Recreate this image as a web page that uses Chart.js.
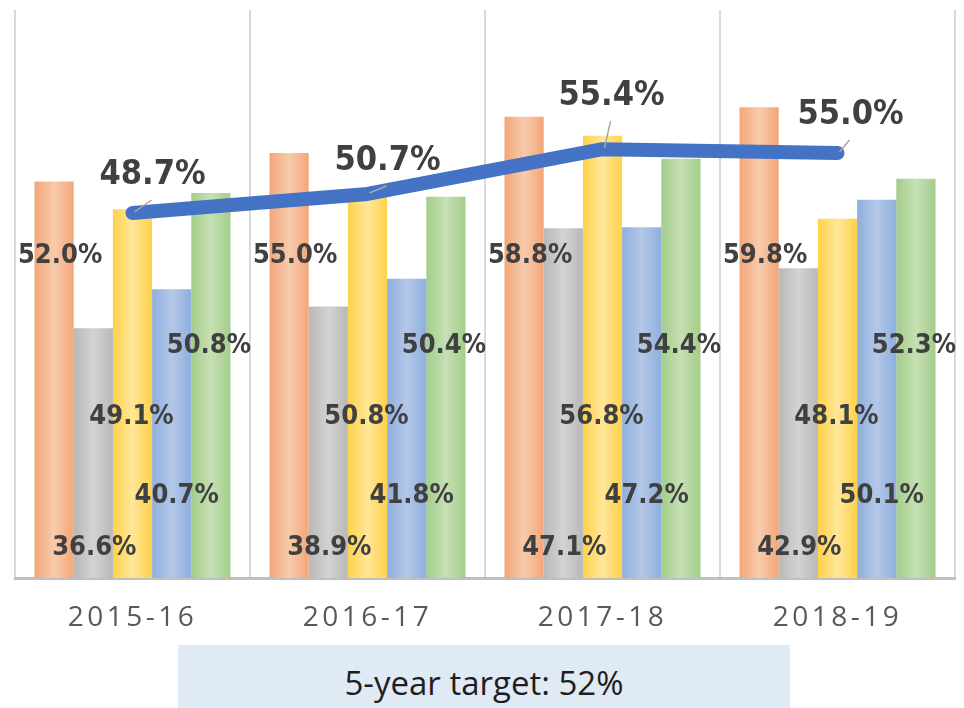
<!DOCTYPE html>
<html>
<head>
<meta charset="utf-8">
<script src="https://cdn.jsdelivr.net/npm/chart.js@4.4.1/dist/chart.umd.min.js"></script>
<style>
  html, body { margin: 0; padding: 0; background: #fff; }
  #wrap { position: relative; width: 964px; height: 708px; }
  #chartBox { position: absolute; left: 0; top: 0; width: 964px; height: 645px; }
  #target {
    position: absolute; left: 178px; top: 645px; width: 612px; height: 63px;
    background: #dfeaf5; color: #1e1e1e; text-align: center;
    font: 33px "Open Sans", sans-serif; line-height: 63px;
  }
  #target span { position: relative; top: 6px; }
</style>
</head>
<body>
<div id="wrap">
  <div id="chartBox"><canvas id="resultsChart"></canvas></div>
  <div id="target"><span>5-year target: 52%</span></div>
</div>
<script>
const years = ["2015-16", "2016-17", "2017-18", "2018-19"];
const orangeValues = [52.0, 55.0, 58.8, 59.8];
const grayValues = [36.6, 38.9, 47.1, 42.9];
const yellowValues = [49.1, 50.8, 56.8, 48.1];
const blueValues = [40.7, 41.8, 47.2, 50.1];
const greenValues = [50.8, 50.4, 54.4, 52.3];
const overallValues = [48.7, 50.7, 55.4, 55.0];

const labelFont = '"DejaVu Sans Condensed", "DejaVu Sans", sans-serif';

// horizontal gradient per bar, set once the bars know where they are
const barGradient = {
  id: "barGradient",
  afterDatasetsUpdate(chart) {
    const ctx = chart.ctx;
    chart.data.datasets.forEach((ds, i) => {
      if (ds.type === "line") return;
      chart.getDatasetMeta(i).data.forEach(bar => {
        const left = bar.x - bar.width / 2;
        const g = ctx.createLinearGradient(left, 0, left + bar.width, 0);
        g.addColorStop(0, ds.edgeColor);
        g.addColorStop(0.5, ds.midColor);
        g.addColorStop(1, ds.edgeColor);
        bar.options = Object.assign({}, bar.options, { backgroundColor: g });
      });
    });
  }
};

// spaced-out category labels
const tickSpacing = {
  id: "tickSpacing",
  beforeDraw(chart) { chart.ctx.letterSpacing = "3.5px"; },
  beforeDatasetsDraw(chart) { chart.ctx.letterSpacing = "0px"; }
};

const valueLabels = {
  id: "valueLabels",
  afterDatasetsDraw(chart, args, opts) {
    const ctx = chart.ctx;
    const yScale = chart.scales.y;
    ctx.save();
    ctx.textAlign = "center";
    ctx.textBaseline = "middle";
    ctx.fillStyle = "#404040";
    chart.data.datasets.forEach((ds, i) => {
      chart.getDatasetMeta(i).data.forEach((el, j) => {
        const txt = ds.data[j].toFixed(1) + "%";
        if (ds.type === "line") {
          const off = opts.lineOffsets[j];
          const lx = el.x + off[0], ly = el.y + off[1];
          ctx.strokeStyle = "#a6a6a6";
          ctx.lineWidth = 1.5;
          ctx.beginPath();
          ctx.moveTo(el.x + 2, el.y - 1);
          ctx.lineTo(lx - 1, ly + 25);
          ctx.stroke();
          ctx.font = "bold 34px " + labelFont;
          ctx.fillText(txt, lx, ly);
        } else {
          ctx.font = "bold 27px " + labelFont;
          ctx.fillText(txt, el.x + ds.labelDx, yScale.getPixelForValue(ds.labelLevel));
        }
      });
    });
    ctx.restore();
  }
};

const barSet = (data, edge, mid, level, dx) => ({
  type: "bar",
  data: data,
  edgeColor: edge,
  midColor: mid,
  backgroundColor: mid,
  borderWidth: 0,
  labelLevel: level,
  labelDx: dx,
  order: 1
});

const ctx = document.getElementById("resultsChart");
new Chart(ctx, {
  data: {
    labels: years,
    datasets: [
      {
        type: "line",
        data: overallValues,
        borderColor: "#4472c4",
        borderWidth: 14,
        borderCapStyle: "round",
        borderJoinStyle: "round",
        pointRadius: 0,
        tension: 0,
        order: 0
      },
      barSet(orangeValues, "#f2a678", "#f8cbad", 44.2, 6),
      barSet(grayValues, "#b8b8b8", "#d3d3d3", 13.5, 1),
      barSet(yellowValues, "#ffd24a", "#ffe699", 27.3, -1),
      barSet(blueValues, "#8eafdf", "#b4c7e7", 19.0, 5),
      barSet(greenValues, "#a3cd8a", "#c6e0b4", 34.7, -2)
    ]
  },
  options: {
    responsive: true,
    maintainAspectRatio: false,
    animation: false,
    layout: { padding: { left: 15, right: 9, top: 10, bottom: 0 } },
    datasets: {
      bar: { categoryPercentage: 0.834, barPercentage: 1 }
    },
    scales: {
      x: {
        offset: true,
        grid: { offset: true, color: "#d9d9d9", lineWidth: 2, drawTicks: false },
        border: { color: "#bfbfbf", width: 3 },
        ticks: {
          color: "#595959",
          font: { family: "Open Sans", size: 28 },
          padding: 23
        },
        afterFit(scale) { scale.height = 67; }
      },
      y: { display: false, min: 10.4, max: 70 }
    },
    plugins: {
      legend: { display: false },
      tooltip: { enabled: false },
      valueLabels: { lineOffsets: [[20, -38], [20, -33], [9, -53], [13, -38]] }
    }
  },
  plugins: [barGradient, tickSpacing, valueLabels]
});
</script>
</body>
</html>
